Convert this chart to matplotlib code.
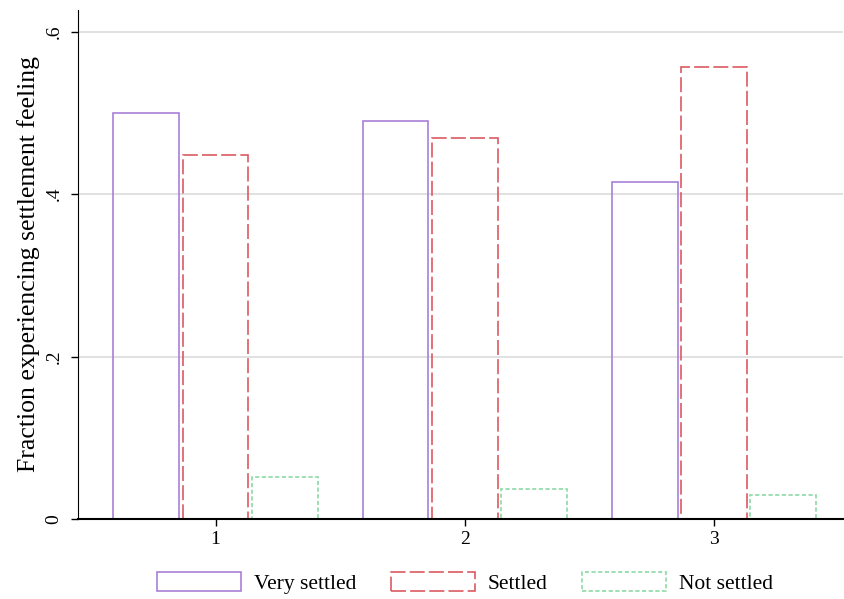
import numpy as np
import matplotlib.pyplot as plt
from matplotlib.patches import Patch

groups = [1, 2, 3]
group_labels = ["1", "2", "3"]
series = ["Very settled", "Settled", "Not settled"]
very_settled = [0.500, 0.490, 0.415]
settled = [0.448, 0.469, 0.556]
not_settled = [0.052, 0.037, 0.030]

colors = ["#a97fd8", "#db5a62", "#8cd9a6"]
styles = ["solid", (0, (9, 2.5)), (0, (2.5, 1.5))]

plt.rcParams['font.family'] = ['Liberation Serif', 'DejaVu Serif']

fig = plt.figure(figsize=(8.45, 5.99), dpi=100)
ax = fig.add_axes([0.0923, 0.1336, 0.905, 0.85])

x = np.array(groups, dtype=float)
width = 0.264
offset = 0.278
for i, vals in enumerate([very_settled, settled, not_settled]):
    ax.bar(x + (i - 1) * offset, vals, width, facecolor='none',
           edgecolor=colors[i], linestyle=styles[i], linewidth=1.2, zorder=3)

ax.set_xlim(0.448, 3.516)
ax.set_ylim(0, 0.627)
ax.set_yticks([0, 0.2, 0.4, 0.6])
ax.set_yticklabels(["0", ".2", ".4", ".6"], rotation=90, va='center', fontsize=14)
ax.set_xticks(x)
ax.set_xticklabels(group_labels, fontsize=14)
ax.tick_params(axis='both', direction='out', length=5, width=1)
ax.tick_params(axis='y', pad=6)
ax.grid(axis='y', color='#dcdcdc', linewidth=1.2, zorder=0)
ax.set_axisbelow(True)
ax.spines['top'].set_visible(False)
ax.spines['right'].set_visible(False)
ax.spines['bottom'].set_zorder(5)
ax.spines['bottom'].set_linewidth(1.5)
ax.spines['left'].set_zorder(5)
ax.set_ylabel("Fraction experiencing settlement feeling", fontsize=18.5, labelpad=4)

handles = [Patch(facecolor='none', edgecolor=c, linestyle=s, linewidth=1.2)
           for c, s in zip(colors, styles)]
fig.legend(handles, series, loc='center', bbox_to_anchor=(0.55, 1 - 583 / 599),
           ncol=3, frameon=False, fontsize=15.5, handlelength=3.9, handleheight=1.0,
           columnspacing=1.6, handletextpad=0.6)

fig.savefig("out.png", dpi=100, facecolor='white')
